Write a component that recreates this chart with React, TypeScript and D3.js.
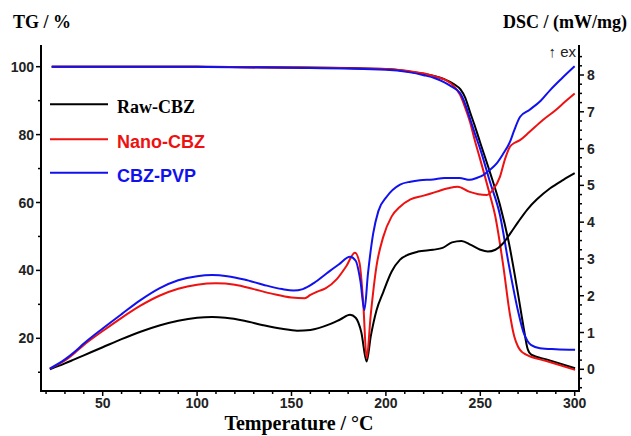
import React from "react";
import * as d3 from "d3";

// Temperature (°C) / DSC (mW/mg) series
const dscRaw: [number, number][] = [
  [22, 0.0], [30, 0.16], [35, 0.27], [40, 0.38], [50, 0.6], [60, 0.82], [70, 1.02], [80, 1.19], [90, 1.32],
  [100, 1.4], [108, 1.42], [115, 1.4], [125, 1.32], [135, 1.2], [145, 1.1], [153, 1.05], [160, 1.07],
  [170, 1.22], [176, 1.36], [181, 1.48], [184, 1.4], [187, 1.0], [189.8, 0.21], [192, 0.9], [195, 1.6],
  [198.6, 2.1], [203, 2.65], [207.5, 2.98], [212, 3.12], [217, 3.2], [225, 3.25], [230, 3.3], [235, 3.45],
  [240, 3.49], [245, 3.38], [250, 3.25], [254, 3.2], [258, 3.25], [262, 3.42], [266, 3.7], [270, 4.0],
  [275, 4.35], [280, 4.62], [287, 4.92], [294, 5.15], [300, 5.33],
];
const dscNano: [number, number][] = [
  [22, 0.02], [30, 0.24], [35, 0.44], [40, 0.66], [50, 1.04], [60, 1.4], [70, 1.73], [80, 2.0], [90, 2.19],
  [100, 2.3], [110, 2.34], [120, 2.3], [130, 2.18], [140, 2.05], [150, 1.95], [157, 1.93], [160, 2.02],
  [164, 2.12], [168, 2.2], [174, 2.45], [179, 2.8], [183.6, 3.17], [186, 2.9], [188, 1.8], [189.8, 0.3],
  [192, 1.5], [195, 2.8], [198.6, 3.6], [203, 4.15], [207.5, 4.42], [213, 4.62], [220, 4.72], [227, 4.83],
  [233, 4.92], [238, 4.96], [244, 4.83], [249, 4.76], [253.4, 4.74], [257, 4.9], [260.4, 5.23], [263, 5.7],
  [265.7, 6.05], [268, 6.15], [271, 6.23], [276, 6.45], [283, 6.77], [290, 7.05], [295, 7.28], [300, 7.5],
];
const dscPvp: [number, number][] = [
  [22, 0.02], [30, 0.27], [35, 0.47], [40, 0.7], [50, 1.11], [60, 1.5], [70, 1.88], [80, 2.2], [90, 2.42],
  [100, 2.53], [108, 2.56], [116, 2.53], [125, 2.44], [135, 2.3], [145, 2.18], [151, 2.14], [156, 2.18],
  [162, 2.35], [168.7, 2.61], [175, 2.85], [181, 3.06], [184, 2.95], [186.5, 2.4], [188.6, 1.61], [190.5, 2.6],
  [193.3, 3.7], [196, 4.3], [200.4, 4.69], [207.5, 5.02], [213, 5.1], [218, 5.14], [225, 5.16], [231, 5.2],
  [239, 5.2], [244.5, 5.15], [248, 5.2], [251.6, 5.28], [255, 5.42], [258.7, 5.6], [262, 5.85], [265.7, 6.18],
  [268, 6.5], [271, 6.86], [276, 7.05], [282, 7.3], [287, 7.59], [293, 7.9], [300, 8.24],
];

// Temperature (°C) / TG (%) series
const tgRaw: [number, number][] = [
  [23, 100], [50, 100], [100, 99.95], [150, 99.8], [180, 99.6], [200, 99.3], [212, 98.6], [220, 97.9],
  [226, 97.2], [231, 96.3], [236, 94.9], [239.5, 93.3], [242, 90.9], [244.5, 86.7], [247, 82.7],
  [249.8, 77.9], [255, 69.1], [260.4, 59.3], [265, 48.5], [270, 33], [273, 23], [275, 17], [277, 15.2],
  [285, 13.8], [300.2, 11.2],
];
const tgNano: [number, number][] = [
  [23, 100], [100, 99.95], [150, 99.8], [200, 99.3], [212, 98.7], [222, 97.8], [228, 96.8], [232, 96.0],
  [236, 94.3], [239.3, 91.7], [242, 87.9], [244.5, 83.8], [247, 78.5], [249.8, 73], [255.1, 62.2],
  [257.8, 56.3], [262, 42], [265.7, 27], [268, 20.5], [270, 17.5], [272, 16.0], [274.6, 15.1], [285, 13.3],
  [300.2, 10.7],
];
const tgPvp: [number, number][] = [
  [23, 100], [100, 99.95], [150, 99.7], [200, 99.1], [212, 98.4], [220, 97.5], [226, 96.6], [231, 95.4],
  [234, 94.4], [239.3, 92.2], [242, 89], [244.5, 84.8], [247, 80.5], [249.8, 76], [255.1, 66.1],
  [260.4, 56.3], [265, 42], [270, 28], [272.8, 21.9], [275, 19.2], [277, 18.0], [281.6, 17.1], [290, 16.8],
  [300.2, 16.6],
];

const seriesNames = ["Raw-CBZ", "Nano-CBZ", "CBZ-PVP"];
const seriesColors = ["#000000", "#ee1111", "#1111ee"];
const xTicks = [50, 100, 150, 200, 250, 300];
const tgTicks = [20, 40, 60, 80, 100];
const dscTicks = [0, 1, 2, 3, 4, 5, 6, 7, 8];

export default function App() {
  const W = 631, H = 436;
  const left = 41, right = 579, top = 45, bottom = 391;
  const x = d3.scaleLinear().domain([50, 300]).range([102.7, 574.7]);
  const yTG = d3.scaleLinear().domain([20, 100]).range([338.3, 66.7]);
  const yD = d3.scaleLinear().domain([0, 8]).range([369.3, 75]);

  const lineTG = d3.line<[number, number]>().x(d => x(d[0])).y(d => yTG(d[1])).curve(d3.curveMonotoneX);
  const lineD = d3.line<[number, number]>().x(d => x(d[0])).y(d => yD(d[1])).curve(d3.curveMonotoneX);

  const tgData = [tgRaw, tgNano, tgPvp];
  const dscData = [dscRaw, dscNano, dscPvp];

  const xMinor = d3.range(20, 301, 10).filter(v => v % 50 !== 0);
  const tgMinor = d3.range(10, 101, 20);
  const dMinor = d3.range(-0.5, 8.6, 0.25).filter(v => Math.abs(v - Math.round(v)) > 0.01 && yD(v) > top && yD(v) < bottom);

  const sans = "'Liberation Sans', Arial, sans-serif";
  const serif = "'Liberation Serif', 'Times New Roman', serif";

  return (
    <svg width={W} height={H} style={{ position: "absolute", left: 0, top: 0, background: "#fff" }}>
      <rect width={W} height={H} fill="#fff" />
      {/* axes */}
      <g stroke="#000" strokeWidth={2} fill="none">
        <line x1={left} y1={top} x2={left} y2={bottom + 1} />
        <line x1={right} y1={top} x2={right} y2={bottom + 1} />
        <line x1={left - 1} y1={bottom} x2={right + 1} y2={bottom} />
      </g>
      <g stroke="#000" strokeWidth={1.5}>
        {xTicks.map(t => <line key={"xt" + t} x1={x(t)} x2={x(t)} y1={bottom} y2={bottom + 5} />)}
        {xMinor.map(t => <line key={"xm" + t} x1={x(t)} x2={x(t)} y1={bottom} y2={bottom + 3} />)}
        {tgTicks.map(t => <line key={"lt" + t} x1={left - 5} x2={left} y1={yTG(t)} y2={yTG(t)} />)}
        {tgMinor.map(t => <line key={"lm" + t} x1={left - 3} x2={left} y1={yTG(t)} y2={yTG(t)} />)}
        {dscTicks.map(t => <line key={"rt" + t} x1={right} x2={right + 5} y1={yD(t)} y2={yD(t)} />)}
        {dMinor.map(t => <line key={"rm" + t} x1={right} x2={right + 3} y1={yD(t)} y2={yD(t)} />)}
      </g>
      <g fontFamily={sans} fontWeight="bold" fontSize={14} fill="#222">
        {xTicks.map(t => <text key={"xl" + t} x={x(t)} y={408} textAnchor="middle">{t}</text>)}
        {tgTicks.map(t => <text key={"ll" + t} x={34} y={yTG(t) + 5} textAnchor="end">{t}</text>)}
        {dscTicks.map(t => <text key={"rl" + t} x={587} y={yD(t) + 5} textAnchor="start">{t}</text>)}
      </g>
      {/* titles */}
      <text x={13} y={28} fontFamily={serif} fontWeight="bold" fontSize={18}>TG / %</text>
      <text x={627} y={28} fontFamily={serif} fontWeight="bold" fontSize={18} textAnchor="end">DSC / (mW/mg)</text>
      <text x={299} y={430} fontFamily={serif} fontWeight="bold" fontSize={20} textAnchor="middle">Temperature / °C</text>
      <text x={576} y={57} fontFamily={sans} fontSize={15} textAnchor="end" fill="#222">↑ ex</text>
      {/* curves */}
      <g fill="none" strokeWidth={2} strokeLinejoin="round">
        {tgData.map((d, i) => <path key={"tg" + i} d={lineTG(d) || ""} stroke={seriesColors[i]} />)}
        {dscData.map((d, i) => <path key={"ds" + i} d={lineD(d) || ""} stroke={seriesColors[i]} />)}
      </g>
      {/* legend */}
      {seriesNames.map((n, i) => {
        const ly = [104.3, 139.3, 172.7][i];
        return (
          <g key={"lg" + i}>
            <line x1={50} x2={108} y1={ly} y2={ly} stroke={seriesColors[i]} strokeWidth={2} />
            <text x={117} y={ly + 9} fill={seriesColors[i]} fontWeight="bold" fontSize={18}
              fontFamily={i === 0 ? serif : sans}>{n}</text>
          </g>
        );
      })}
    </svg>
  );
}
